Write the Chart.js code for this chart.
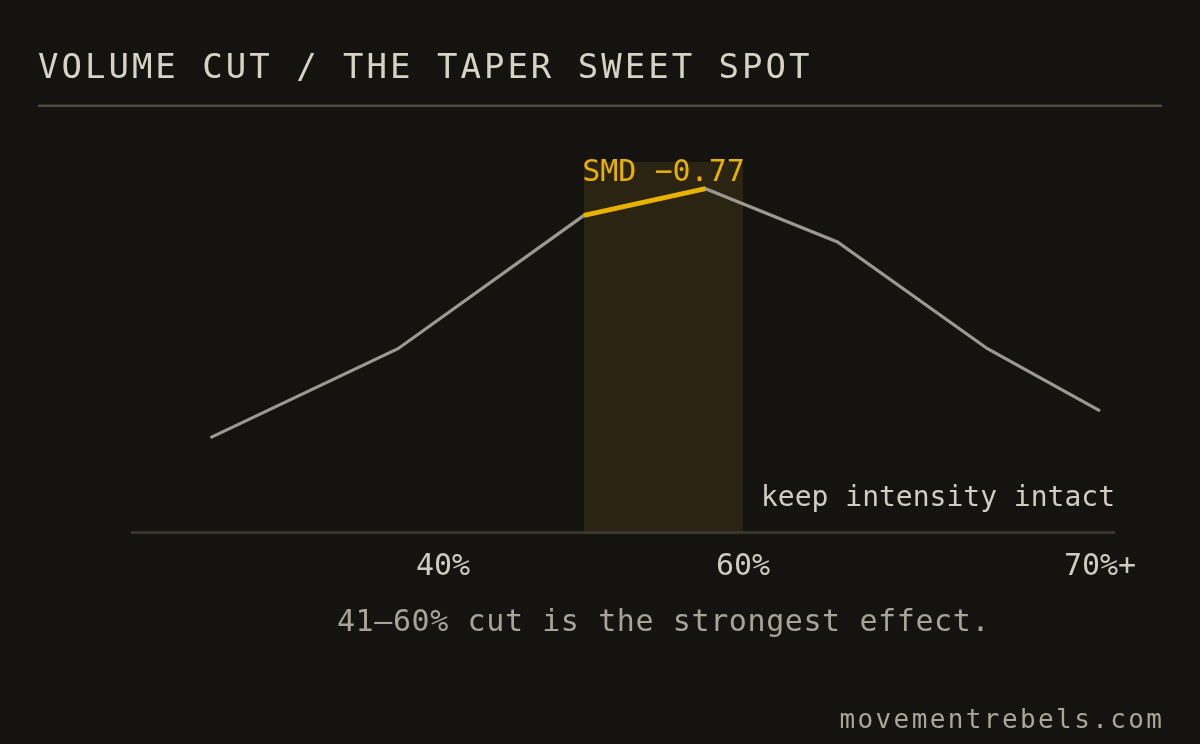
<!DOCTYPE html>
<html>
<head>
<meta charset="utf-8">
<script src="https://cdn.jsdelivr.net/npm/chart.js@4/dist/chart.umd.min.js"></script>
<style>
  html, body { margin: 0; padding: 0; background: #14130f; }
  #wrap { width: 1200px; height: 744px; position: relative; }
</style>
</head>
<body>
<div id="wrap"><canvas id="chart" width="1200" height="744"></canvas></div>
<script>
// Volume cut position (x, in % units of the drawn axis) and effect size (SMD).
const cutPositions = [24.5, 37, 49.4, 57.5, 66.3, 76.3, 83.8];
const smdValues = [-0.21, -0.41, -0.71, -0.77, -0.65, -0.41, -0.27];
// Indices of the segment that gets the highlight colour.
const highlightFrom = 2;
const highlightTo = 3;
// Sweet-spot band (x range) and its top (y).
const bandRange = [49.4, 60];
const bandTop = -0.83;
// Tick labels and where they sit on the x scale.
const tickValues = [40, 60, 83.8];
const tickLabels = ['40%', '60%', '70%+'];

const FONT = "'DejaVu Sans Mono', monospace";
const GRAY = '#9a9891';
const GOLD = '#e8b200';

const baseLine = cutPositions.map((x, i) => ({ x, y: smdValues[i] }));
const sweetLine = cutPositions.map((x, i) => ({
    x,
    y: i >= highlightFrom && i <= highlightTo ? smdValues[i] : null,
}));

const peakIndex = smdValues.indexOf(Math.min(...smdValues));

// Band behind the line, then every text / rule drawn off the chart's scales.
const decor = {
    id: 'decor',
    beforeDraw(chart) {
        const { ctx } = chart;
        ctx.save();
        ctx.fillStyle = '#14130f';
        ctx.fillRect(0, 0, chart.width, chart.height);
        ctx.restore();
    },
    beforeDatasetsDraw(chart) {
        const { ctx, scales: { x, y } } = chart;
        const x0 = x.getPixelForValue(bandRange[0]);
        const x1 = x.getPixelForValue(bandRange[1]);
        const y0 = y.getPixelForValue(bandTop);
        const y1 = y.getPixelForValue(0);
        ctx.save();
        ctx.fillStyle = '#2b2413';
        ctx.fillRect(x0, y0, x1 - x0, y1 - y0);
        ctx.restore();
    },
    afterDatasetsDraw(chart) {
        const { ctx, chartArea: area, scales: { x, y } } = chart;
        const bandMid = (x.getPixelForValue(bandRange[0]) + x.getPixelForValue(bandRange[1])) / 2;
        ctx.save();

        // title + rule
        ctx.font = `34px ${FONT}`;
        ctx.letterSpacing = '3px';
        ctx.fillStyle = '#d6d2c4';
        ctx.textAlign = 'left';
        ctx.textBaseline = 'alphabetic';
        ctx.fillText('VOLUME CUT / THE TAPER SWEET SPOT', 38, 78);
        ctx.fillStyle = '#4f4b40';
        ctx.fillRect(38, 104.5, 1124, 2.5);

        // baseline axis
        ctx.fillStyle = '#3a362d';
        ctx.fillRect(area.left, y.getPixelForValue(0), area.right - area.left, 3);

        // peak annotation
        ctx.letterSpacing = '0px';
        ctx.font = `30px ${FONT}`;
        ctx.fillStyle = GOLD;
        ctx.textAlign = 'center';
        ctx.fillText('SMD \u2212' + Math.abs(smdValues[peakIndex]).toFixed(2),
            bandMid, y.getPixelForValue(smdValues[peakIndex]) - 8);

        // right-hand note
        ctx.font = `28px ${FONT}`;
        ctx.fillStyle = '#d0ccc0';
        ctx.textAlign = 'right';
        ctx.fillText('keep intensity intact', area.right, 506);

        // x tick labels
        ctx.font = `30px ${FONT}`;
        ctx.fillStyle = '#cfcbbf';
        ctx.textAlign = 'center';
        tickValues.forEach((v, i) => {
            ctx.fillText(tickLabels[i], x.getPixelForValue(v), 575);
        });

        // caption
        ctx.letterSpacing = '0.6px';
        ctx.fillStyle = '#a7a396';
        ctx.fillText('41\u201360% cut is the strongest effect.', bandMid, 631);

        // source
        ctx.font = `26px ${FONT}`;
        ctx.letterSpacing = '2.4px';
        ctx.fillStyle = '#a9a597';
        ctx.textAlign = 'right';
        ctx.fillText('movementrebels.com', 1162 + 2.4, 728);
        ctx.restore();
    },
};

new Chart(document.getElementById('chart'), {
    type: 'line',
    data: {
        datasets: [
            {
                data: sweetLine,
                borderColor: GOLD,
                borderWidth: 5,
                spanGaps: false,
            },
            {
                data: baseLine,
                borderColor: GRAY,
                borderWidth: 3.2,
            },
        ],
    },
    options: {
        responsive: false,
        animation: false,
        events: [],
        layout: { padding: { left: 131, right: 85, top: 162, bottom: 213 } },
        elements: {
            point: { radius: 0 },
            line: { tension: 0, borderJoinStyle: 'miter', borderCapStyle: 'butt' },
        },
        scales: {
            x: { type: 'linear', min: 19.2, max: 84.8, display: false },
            y: { type: 'linear', min: bandTop, max: 0, reverse: true, display: false },
        },
        plugins: { legend: { display: false }, tooltip: { enabled: false } },
    },
    plugins: [decor],
});
</script>
</body>
</html>
